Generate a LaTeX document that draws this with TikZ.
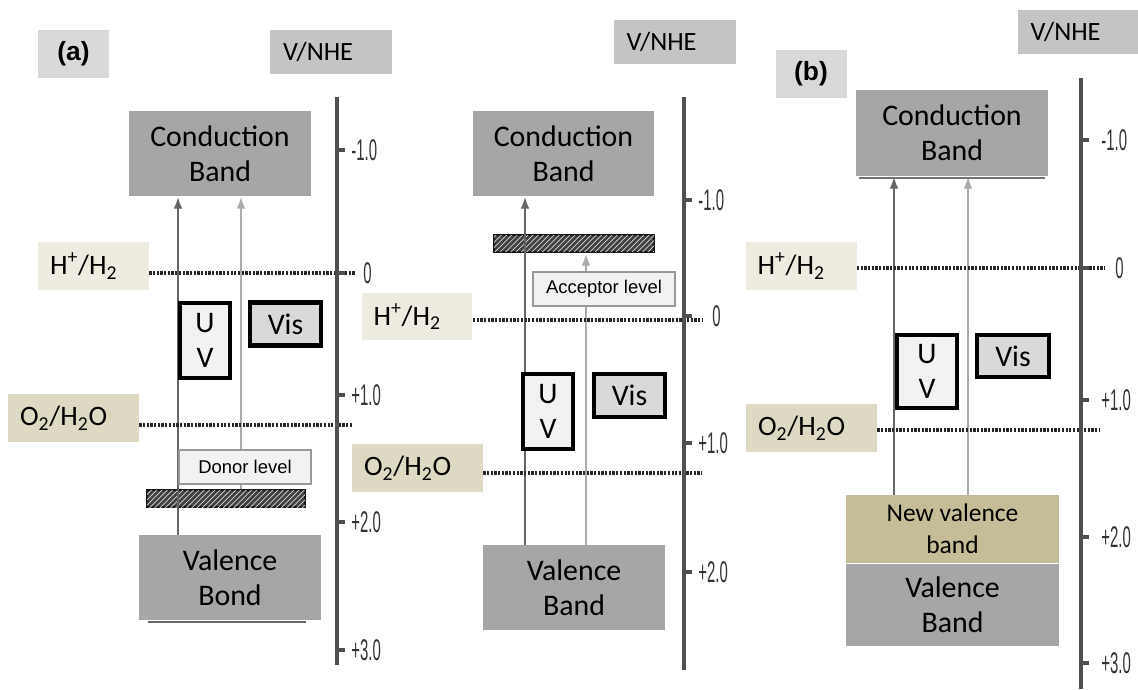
\documentclass[tikz,border=0pt]{standalone}
\usepackage{fontspec}
\setmainfont{Carlito}
\newfontfamily\arialfont{Liberation Sans}
\newfontfamily\narrowfont{Liberation Sans}[FakeStretch=0.5]
\usepackage{tikz}
\usetikzlibrary{arrows.meta, positioning, calc, patterns}
\definecolor{bandgray}{RGB}{166,166,166}
\definecolor{tagbeige}{RGB}{238,236,225}
\definecolor{tagtan}{RGB}{221,217,195}
\definecolor{newtan}{RGB}{196,189,151}
\definecolor{labelgray}{RGB}{217,217,217}
\definecolor{unitgray}{RGB}{196,196,196}
\definecolor{axisgray}{RGB}{80,80,80}

\begin{document}
\begin{tikzpicture}[x=0.02cm, y=-0.02cm,
  band/.style={rectangle, fill=bandgray, minimum width=3.64cm, minimum height=1.7cm,
               inner sep=0pt, align=center, font=\fontsize{17}{20}\selectfont},
  htag/.style={rectangle, fill=tagbeige, text width=1.74cm, inner xsep=0.24cm,
               minimum height=0.96cm, align=left, font=\fontsize{16}{19}\selectfont},
  otag/.style={htag, fill=tagtan, text width=2.14cm},
  ptag/.style={rectangle, fill=labelgray, minimum width=1.42cm, minimum height=0.96cm,
               font=\arialfont\bfseries\fontsize{15}{18}\selectfont},
  unit/.style={rectangle, fill=unitgray, text width=1.92cm, inner xsep=0.26cm,
               minimum height=0.88cm, align=left, font=\fontsize{15}{18}\selectfont},
  uvbox/.style={rectangle, draw=black, line width=2.3pt, fill=black!5, minimum width=1cm,
                minimum height=1.5cm, inner sep=0pt, align=center, font=\fontsize{17}{20}\selectfont},
  visbox/.style={uvbox, fill=labelgray, minimum width=1.42cm, minimum height=0.86cm},
  levelbox/.style={rectangle, draw=black!40, line width=0.8pt, fill=black!5, minimum width=2.64cm,
                   minimum height=0.68cm, inner sep=0pt, font=\arialfont\fontsize{10.5}{12}\selectfont},
  hatchbar/.style={rectangle, draw=black!90, line width=1.6pt, fill=black!75, minimum width=3.16cm,
                   minimum height=0.34cm, inner sep=0pt, postaction={pattern=north east lines, pattern color=white!85!black}},
  uvarr/.style={-{Latex[length=7pt,width=5pt]}, draw=black!60, line width=1.5pt},
  visarr/.style={uvarr, draw=black!33},
  redox/.style={black!85, line width=2.4pt, dash pattern=on 1.3pt off 0.8pt},
  axis/.style={axisgray, line width=2.1pt},
  tickmark/.style={axisgray, line width=2.4pt},
  ticklbl/.style={anchor=west, inner sep=0pt, text=black!80, font=\narrowfont\fontsize{17}{19}\selectfont}
]
\useasboundingbox (0,0) rectangle (1138,689);
\clip (0,0) rectangle (1138,689);
\fill[white] (0,0) rectangle (1138,689);

% (a) donor level
\node[ptag] (tagDon) at (73.5,54) {(a)};
\node[unit] (unitDon) at (331,52) {V/NHE};
\node[band] (cbDon) at (220,153.5) {Conduction\\Band};
\node[band] (vbDon) at (230,577.5) {Valence\\Bond};
\draw[black!60, line width=1.2pt] ($(vbDon.south west)+(9,1.5)$) -- ($(vbDon.south east)+(-15,1.5)$);
\node[htag] (hDon) at (93.5,266) {H\textsuperscript{+}/H\textsubscript{2}};
\node[otag] (oDon) at (73.5,418) {O\textsubscript{2}/H\textsubscript{2}O};
\node[hatchbar] (barDon) at (226,498.5) {};
\coordinate (uvxDon) at (178,0);
\coordinate (visxDon) at (241,0);
\draw[uvarr] (vbDon.north -| uvxDon) -- (cbDon.south -| uvxDon);
\draw[visarr] (barDon.north -| visxDon) -- (cbDon.south -| visxDon);
\coordinate (hlvDon) at (355,273);
\coordinate (olvDon) at (353,425);
\draw[redox] (hDon.east |- hlvDon) -- (hlvDon);
\draw[redox] (oDon.east |- olvDon) -- (olvDon);
\node[uvbox] (uvDon) at (205,340.5) {U\\V};
\node[visbox] (visDon) at (285.5,324) {Vis};
\node[levelbox] (lvDon) at (245,467) {Donor level};
\coordinate (axDonTop) at (337,97);
\coordinate (axDonBot) at (337,665);
\draw[axis] (axDonTop) -- (axDonBot);
\foreach \v/\y/\dx in {-1.0/150/14, 0/273/26, +1.0/395/14, +2.0/522/14, +3.0/650/14} {
  \draw[tickmark] (337,\y) -- ++(8,0);
  \node[ticklbl] (tkDon\y) at (337+\dx,\y) {\v};
}

% (a) acceptor level
\node[unit] (unitAcc) at (674.5,42) {V/NHE};
\node[band] (cbAcc) at (563.5,153.5) {Conduction\\Band};
\node[band] (vbAcc) at (574,587.5) {Valence\\Band};
\node[hatchbar, minimum width=3.2cm] (barAcc) at (574,243.5) {};
\node[htag] (hAcc) at (417,316.5) {H\textsuperscript{+}/H\textsubscript{2}};
\node[otag] (oAcc) at (417.5,468) {O\textsubscript{2}/H\textsubscript{2}O};
\coordinate (uvxAcc) at (525,0);
\coordinate (visxAcc) at (586,0);
\draw[uvarr] (vbAcc.north -| uvxAcc) -- (cbAcc.south -| uvxAcc);
\draw[visarr] (vbAcc.north -| visxAcc) -- (barAcc.south -| visxAcc);
\coordinate (hlvAcc) at (702,320);
\coordinate (olvAcc) at (702,473);
\draw[redox] (hAcc.east |- hlvAcc) -- (hlvAcc);
\draw[redox] (oAcc.east |- olvAcc) -- (olvAcc);
\node[uvbox] (uvAcc) at (548,411.5) {U\\V};
\node[visbox] (visAcc) at (629.5,395.5) {Vis};
\node[levelbox, minimum width=2.84cm] (lvAcc) at (604,289) {Acceptor level};
\coordinate (axAccTop) at (684,97);
\coordinate (axAccBot) at (684,670);
\draw[axis] (axAccTop) -- (axAccBot);
\foreach \v/\y/\dx in {-1.0/200/14, 0/316/28, +1.0/443/14, +2.0/572/14} {
  \draw[tickmark] (684,\y) -- ++(8,0);
  \node[ticklbl] (tkAcc\y) at (684+\dx,\y) {\v};
}

% (b) new valence band
\node[ptag] (tagNew) at (811,74) {(b)};
\node[unit] (unitNew) at (1078.5,32) {V/NHE};
\node[band, minimum width=3.84cm, minimum height=1.72cm] (cbNew) at (952,133) {Conduction\\Band};
\draw[black!55, line width=1.2pt] ($(cbNew.south west)+(3,1.5)$) -- ($(cbNew.south east)+(-3,1.5)$);
\node[band, fill=newtan, minimum width=4.26cm, minimum height=1.36cm,
      font=\fontsize{14.5}{18}\selectfont] (nvNew) at (952.5,529) {New valence\\band};
\node[band, below=0pt of nvNew, minimum width=4.26cm, minimum height=1.64cm] (vbNew) {Valence\\Band};
\node[htag] (hNew) at (801,266) {H\textsuperscript{+}/H\textsubscript{2}};
\node[otag] (oNew) at (811.5,428) {O\textsubscript{2}/H\textsubscript{2}O};
\coordinate (uvxNew) at (894,0);
\coordinate (visxNew) at (968,0);
\draw[uvarr] (nvNew.north -| uvxNew) -- (cbNew.south -| uvxNew);
\draw[visarr] (nvNew.north -| visxNew) -- (cbNew.south -| visxNew);
\coordinate (hlvNew) at (1105,268);
\coordinate (olvNew) at (1100,430);
\draw[redox] (hNew.east |- hlvNew) -- (hlvNew);
\draw[redox] (oNew.east |- olvNew) -- (olvNew);
\node[uvbox, minimum width=1.2cm, minimum height=1.46cm] (uvNew) at (927,371.5) {U\\V};
\node[visbox, minimum width=1.44cm, minimum height=0.84cm] (visNew) at (1013,356) {Vis};
\coordinate (axNewTop) at (1081,78);
\coordinate (axNewBot) at (1081,689);
\draw[axis] (axNewTop) -- (axNewBot);
\foreach \v/\y/\dx in {-1.0/140/20, 0/268/34, +1.0/400/20, +2.0/537/20, +3.0/663/20} {
  \draw[tickmark] (1081,\y) -- ++(8,0);
  \node[ticklbl] (tkNew\y) at (1081+\dx,\y) {\v};
}
\end{tikzpicture}
\end{document}
